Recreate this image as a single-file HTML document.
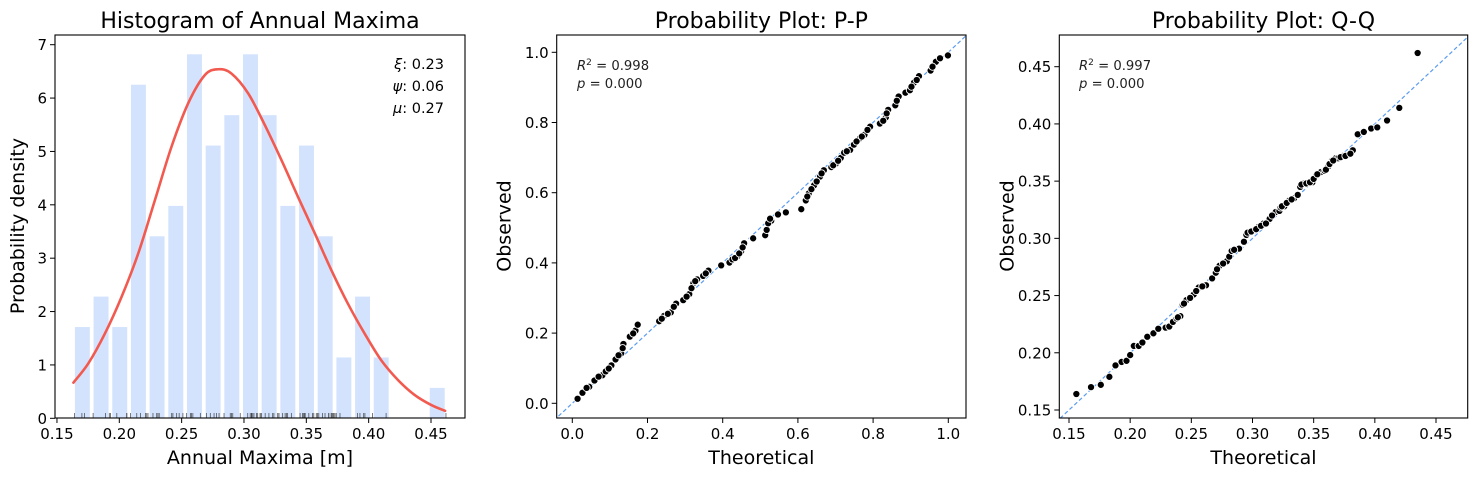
<!DOCTYPE html>
<html><head><meta charset="utf-8">
<style>
html,body{margin:0;padding:0;background:#fff;}
svg{display:block;font-family:"DejaVu Sans","Liberation Sans",sans-serif;}
</style></head>
<body>
<svg id="fig" width="1478" height="477" viewBox="0 0 1478 477" xmlns="http://www.w3.org/2000/svg"></svg>
<script>
// ---------- Data ----------
const histHeights = [1.71,2.28,1.71,6.25,3.41,3.98,6.82,5.11,5.68,6.82,5.68,3.98,5.11,3.41,1.14,2.28,1.14,0,0,0.57];
const histStart = 0.1629;
const histBinWidth = 0.01498;
const pdfX = [0.1632,0.1752,0.1885,0.2019,0.2152,0.2286,0.2419,0.2552,0.2686,0.2793,0.2899,0.3033,0.3166,0.3300,0.3433,0.3567,0.3700,0.3833,0.3967,0.4100,0.4234,0.4367,0.4501,0.4613];
const pdfY = [0.668,1.03,1.59,2.28,3.09,4.09,5.09,5.90,6.43,6.54,6.46,6.09,5.50,4.84,4.15,3.47,2.78,2.15,1.59,1.09,0.72,0.44,0.25,0.14];
const histXTicks = [0.15,0.20,0.25,0.30,0.35,0.40,0.45];
const histYTicks = [0,1,2,3,4,5,6,7];
const fitParams = ["0.23","0.06","0.27"];

const ppX = [.014,.027,.045,.059,.080,.089,.104,.115,.130,.136,.153,.168,.174,.231,.244,.262,.276,.295,.311,.322,.332,.348,.362,.396,.418,.426,.439,.449,.457,.481,.513,.517,.529,.547,.568,.609,.621,.629,.643,.659,.669,.689,.701,.714,.723,.739,.749,.765,.777,.792,.818,.834,.840,.859,.868,.886,.898,.909,.922,.953,.967,.978,.999,
.038,.070,.097,.123,.134,.162,.238,.254,.270,.304,.317,.327,.355,.433,.444,.453,.521,.526,.625,.636,.650,.663,.694,.707,.730,.756,.770,.785,.827,.836,.863,.902,.916,.958];
const ppY = [.013,.030,.047,.065,.080,.091,.108,.125,.142,.169,.190,.207,.224,.234,.249,.259,.284,.294,.311,.342,.353,.363,.378,.393,.401,.410,.419,.433,.456,.470,.479,.494,.520,.538,.544,.553,.578,.598,.621,.646,.664,.673,.683,.699,.714,.722,.737,.755,.765,.788,.797,.815,.836,.849,.874,.885,.892,.914,.932,.948,.973,.983,.991,
.044,.076,.099,.137,.157,.199,.241,.255,.275,.304,.328,.348,.370,.414,.427,.444,.513,.526,.589,.610,.632,.655,.678,.691,.718,.746,.760,.779,.805,.826,.862,.902,.921,.959];
const ppTicks = [0.0,0.2,0.4,0.6,0.8,1.0];

const qqX = [.156,.168,.176,.183,.188,.193,.197,.200,.203,.207,.210,.214,.219,.223,.229,.232,.235,.238,.241,.243,.246,.252,.256,.262,.267,.270,.273,.279,.281,.283,.289,.293,.295,.298,.301,.305,.309,.312,.314,.319,.322,.323,.326,.330,.334,.337,.339,.342,.346,.349,.352,.356,.359,.362,.365,.368,.370,.374,.378,.382,.386,.391,.397,.402,.410,.420,.435,
.239,.244,.249,.254,.259,.271,.276,.285,.296,.299,.303,.307,.311,.316,.324,.328,.332,.340,.344,.347,.350,.353,.360,.363,.366,.372,.376,.380];
const qqY = [.164,.170,.172,.179,.189,.192,.193,.198,.206,.206,.209,.214,.217,.221,.222,.223,.227,.230,.232,.242,.246,.251,.257,.259,.265,.270,.276,.280,.284,.289,.291,.297,.303,.306,.307,.310,.313,.314,.317,.323,.324,.327,.328,.333,.335,.338,.345,.348,.349,.349,.355,.358,.359,.363,.368,.370,.370,.372,.373,.377,.391,.393,.396,.397,.403,.414,.462,
.231,.243,.248,.254,.258,.273,.278,.290,.305,.306,.308,.311,.313,.320,.328,.331,.334,.347,.348,.349,.352,.356,.360,.365,.368,.371,.372,.374];
const qqTicks = [0.15,0.20,0.25,0.30,0.35,0.40,0.45];

// ---------- helpers ----------
const NS = "http://www.w3.org/2000/svg";
const svg = document.getElementById('fig');
function mk(tag, attrs, parent, text){
  const e = document.createElementNS(NS, tag);
  for (const k in attrs) e.setAttribute(k, attrs[k]);
  if (text !== undefined) e.textContent = text;
  (parent || svg).appendChild(e);
  return e;
}
function lin(d0,d1,r0,r1){ return v => r0 + (v-d0)*(r1-r0)/(d1-d0); }
function catmull(pts){
  let d = `M${pts[0][0]},${pts[0][1]}`;
  for (let i=0;i<pts.length-1;i++){
    const p0=pts[Math.max(0,i-1)], p1=pts[i], p2=pts[i+1], p3=pts[Math.min(pts.length-1,i+2)];
    const c1=[p1[0]+(p2[0]-p0[0])/6, p1[1]+(p2[1]-p0[1])/6];
    const c2=[p2[0]-(p3[0]-p1[0])/6, p2[1]-(p3[1]-p1[1])/6];
    d += ` C${c1[0]},${c1[1]} ${c2[0]},${c2[1]} ${p2[0]},${p2[1]}`;
  }
  return d;
}
function axesFrame(g, L,T,R,B, name){
  const r = mk('rect',{x:L,y:T,width:R-L,height:B-T,fill:'none',stroke:'#000','stroke-width':1.1},g);
  
  
}
function xTicks(g, ticks, sx, B, fmt, name){
  const tg = mk('g',{},g);
  
  
  ticks.forEach(t=>{
    const x = sx(t);
    mk('line',{x1:x,x2:x,y1:B,y2:B+5,stroke:'#000','stroke-width':1},tg);
    const tx = mk('text',{x:x,y:B+21,'font-size':15,'text-anchor':'middle',fill:'#000'},tg,fmt(t));
    
    
  });
}
function yTicks(g, ticks, sy, L, fmt, name){
  const tg = mk('g',{},g);
  
  
  ticks.forEach(t=>{
    const y = sy(t);
    mk('line',{x1:L-5,x2:L,y1:y,y2:y,stroke:'#000','stroke-width':1},tg);
    const tx = mk('text',{x:L-8,y:y+5.5,'font-size':15,'text-anchor':'end',fill:'#000'},tg,fmt(t));
    
    
  });
}
function label(g, txt, x, y, size, rot, name){
  const t = mk('text',{x:x,y:y,'font-size':size,'text-anchor':'middle',fill:'#000'},g,txt);
  if (rot) t.setAttribute('transform',`rotate(-90 ${x} ${y})`);
  
  
  return t;
}

// ---------- Panel 1: histogram ----------
(function(){
  const L=55,T=35,R=465,B=418;
  const g = mk('g',{});
  
  
  const sx = lin(0.20,0.45,119.3,431);
  const sy = lin(0,7,418.3,44.7);
  const bars = mk('g',{},g);
  
  
  histHeights.forEach((h,i)=>{
    if (h<=0) return;
    const x0 = histStart + i*histBinWidth;
    const xa = sx(x0 + 0.1*histBinWidth), xb = sx(x0 + 0.9*histBinWidth);
    const r = mk('rect',{x:xa,y:sy(h),width:xb-xa,height:sy(0)-sy(h),fill:'#d3e3fd'},bars);
    
    
  });
  const rug = mk('g',{},g);
  
  
  qqY.forEach(v=>{
    const x = sx(v);
    mk('line',{x1:x,x2:x,y1:B-5,y2:B,stroke:'#333','stroke-width':0.8,opacity:0.8},rug);
  });
  const pts = pdfX.map((v,i)=>[sx(v),sy(pdfY[i])]);
  const c = mk('path',{d:catmull(pts),fill:'none',stroke:'#f25a50','stroke-width':2.6,'stroke-linecap':'round'},g);
  
  
  axesFrame(g,L,T,R,B,'histogram-axes');
  xTicks(g,histXTicks,sx,B,v=>v.toFixed(2),'histogram-x-ticks');
  yTicks(g,histYTicks,sy,L,v=>String(v),'histogram-y-ticks');
  label(g,'Histogram of Annual Maxima',260,28,22,false,'histogram-title');
  label(g,'Annual Maxima [m]',260,464,19,false,'histogram-x-axis-title');
  label(g,'Probability density',24,226,19,true,'histogram-y-axis-title');
  const greek = ['ξ','ψ','μ'];
  const ann = mk('g',{},g);
  
  
  greek.forEach((gch,i)=>{
    const t = mk('text',{x:444,y:69+i*22,'font-size':14.5,'text-anchor':'end',fill:'#000'},ann);
    mk('tspan',{'font-style':'italic'},t,gch);
    mk('tspan',{},t,': '+fitParams[i]);
  });
})();

// ---------- Panels 2 & 3 ----------
function probPanel(opts){
  const {L,T,R,B,sx,sy,xs,ys,ticks,fmt,title,name,stat,dmin,dmax,tx} = opts;
  const g = mk('g',{});
  
  
  const cp = mk('clipPath',{id:name+'-clip'},g);
  mk('rect',{x:L,y:T,width:R-L,height:B-T},cp);
  const ln = mk('line',{x1:sx(dmin),y1:sy(dmin),x2:sx(dmax),y2:sy(dmax),stroke:'#5b9cf0','stroke-width':1.2,'stroke-dasharray':'4,2.5','clip-path':`url(#${name}-clip)`},g);
  
  
  const pg = mk('g',{},g);
  
  
  xs.forEach((v,i)=>{
    const c = mk('circle',{cx:sx(v),cy:sy(ys[i]),r:3.6,fill:'#000',stroke:'#fff','stroke-width':0.9},pg);
    
    
  });
  axesFrame(g,L,T,R,B,name+'-axes');
  xTicks(g,ticks,sx,B,fmt,name+'-x-ticks');
  yTicks(g,ticks,sy,L,fmt,name+'-y-ticks');
  label(g,title,(L+R)/2,28,22,false,name+'-title');
  label(g,'Theoretical',(L+R)/2,464,19,false,name+'-x-axis-title');
  label(g,'Observed',L-46,226,19,true,name+'-y-axis-title');
  const st = mk('g',{},g);
  
  
  const t1 = mk('text',{x:tx,y:70,'font-size':13.2,fill:'#222'},st);
  mk('tspan',{'font-style':'italic'},t1,'R');
  mk('tspan',{'font-size':9,dy:-5},t1,'2');
  mk('tspan',{dy:5},t1,' = '+stat);
  const t2 = mk('text',{x:tx,y:88,'font-size':13.2,fill:'#222'},st);
  mk('tspan',{'font-style':'italic'},t2,'p');
  mk('tspan',{},t2,' = 0.000');
}
probPanel({L:556.7,T:35,R:966,B:418,sx:lin(0,1,572.3,948.3),sy:lin(0,1,403.3,52.3),xs:ppX,ys:ppY,ticks:ppTicks,fmt:v=>v.toFixed(1),title:'Probability Plot: P-P',name:'pp-plot',stat:'0.998',dmin:-0.1,dmax:1.1,tx:577});
probPanel({L:1059.3,T:35,R:1467.7,B:418,sx:lin(0.15,0.45,1069,1436),sy:lin(0.15,0.45,410,66.7),xs:qqX,ys:qqY,ticks:qqTicks,fmt:v=>v.toFixed(2),title:'Probability Plot: Q-Q',name:'qq-plot',stat:'0.997',dmin:0.1,dmax:0.5,tx:1079});
</script>
</body></html>
